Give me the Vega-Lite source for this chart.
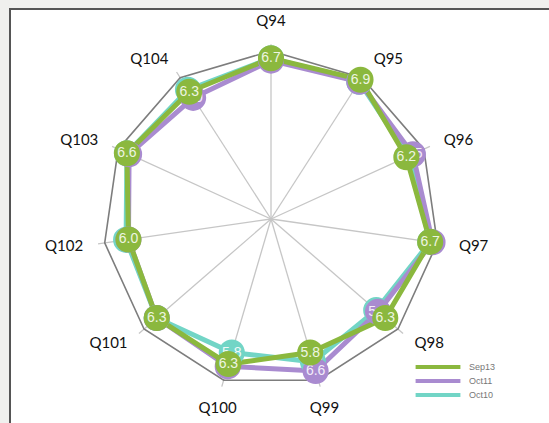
{
  "$schema": "https://vega.github.io/schema/vega-lite/v6.json",
  "width": 545,
  "height": 420,
  "autosize": {"type": "none"},
  "padding": {"left": 10, "top": 9, "right": 0, "bottom": 0},
  "background": "#f0f0ee",
  "config": {"view": {"stroke": "#555555", "strokeWidth": 2, "fill": "#ffffff"}},
  "datasets": {
    "axes": [
      {"q": "Q94", "max": 7}, {"q": "Q95", "max": 7}, {"q": "Q96", "max": 7}, {"q": "Q97", "max": 7},
      {"q": "Q98", "max": 7}, {"q": "Q99", "max": 7}, {"q": "Q100", "max": 7}, {"q": "Q101", "max": 7},
      {"q": "Q102", "max": 7}, {"q": "Q103", "max": 7}, {"q": "Q104", "max": 7}
    ],
    "scores": [
      {"series": "Sep13", "q": "Q94", "value": 6.7}, {"series": "Sep13", "q": "Q95", "value": 6.9},
      {"series": "Sep13", "q": "Q96", "value": 6.2}, {"series": "Sep13", "q": "Q97", "value": 6.7},
      {"series": "Sep13", "q": "Q98", "value": 6.3}, {"series": "Sep13", "q": "Q99", "value": 5.8},
      {"series": "Sep13", "q": "Q100", "value": 6.3}, {"series": "Sep13", "q": "Q101", "value": 6.3},
      {"series": "Sep13", "q": "Q102", "value": 6.0}, {"series": "Sep13", "q": "Q103", "value": 6.6},
      {"series": "Sep13", "q": "Q104", "value": 6.3},
      {"series": "Oct11", "q": "Q94", "value": 6.6}, {"series": "Oct11", "q": "Q95", "value": 6.8},
      {"series": "Oct11", "q": "Q96", "value": 6.5}, {"series": "Oct11", "q": "Q97", "value": 6.8},
      {"series": "Oct11", "q": "Q98", "value": 5.9}, {"series": "Oct11", "q": "Q99", "value": 6.6},
      {"series": "Oct11", "q": "Q100", "value": 6.4}, {"series": "Oct11", "q": "Q101", "value": 6.3},
      {"series": "Oct11", "q": "Q102", "value": 6.0}, {"series": "Oct11", "q": "Q103", "value": 6.5},
      {"series": "Oct11", "q": "Q104", "value": 6.0},
      {"series": "Oct10", "q": "Q94", "value": 6.7}, {"series": "Oct10", "q": "Q95", "value": 6.8},
      {"series": "Oct10", "q": "Q96", "value": 6.3}, {"series": "Oct10", "q": "Q97", "value": 6.7},
      {"series": "Oct10", "q": "Q98", "value": 5.8}, {"series": "Oct10", "q": "Q99", "value": 6.2},
      {"series": "Oct10", "q": "Q100", "value": 5.8}, {"series": "Oct10", "q": "Q101", "value": 6.3},
      {"series": "Oct10", "q": "Q102", "value": 6.1}, {"series": "Oct10", "q": "Q103", "value": 6.6},
      {"series": "Oct10", "q": "Q104", "value": 6.4}
    ]
  },
  "layer": [
    {
      "data": {"name": "axes"},
      "transform": [
        {"calculate": "indexof(['Q94','Q95','Q96','Q97','Q98','Q99','Q100','Q101','Q102','Q103','Q104'], datum.q) * 2 * PI / 11", "as": "a"},
        {"calculate": "datum.max * 1.04 * 24 * sin(datum.a)", "as": "sx"},
        {"calculate": "datum.max * 1.04 * 24 * cos(datum.a)", "as": "sy"},
        {"calculate": "0", "as": "o"}
      ],
      "mark": {"type": "rule", "color": "#c6c6c6", "strokeWidth": 1.3},
      "encoding": {
        "x": {"field": "o", "type": "quantitative", "scale": {"domain": [-261, 284]}, "axis": null},
        "y": {"field": "o", "type": "quantitative", "scale": {"domain": [-210, 210]}, "axis": null},
        "x2": {"field": "sx"},
        "y2": {"field": "sy"}
      }
    },
    {
      "data": {"name": "axes"},
      "transform": [
        {"calculate": "indexof(['Q94','Q95','Q96','Q97','Q98','Q99','Q100','Q101','Q102','Q103','Q104'], datum.q)", "as": "i"},
        {"calculate": "datum.i * 2 * PI / 11", "as": "a"},
        {"calculate": "datum.max * 24 * sin(datum.a)", "as": "rx"},
        {"calculate": "datum.max * 24 * cos(datum.a)", "as": "ry"}
      ],
      "mark": {"type": "line", "interpolate": "linear-closed", "color": "#7d7d7d", "strokeWidth": 1.6},
      "encoding": {
        "x": {"field": "rx", "type": "quantitative", "scale": {"domain": [-261, 284]}, "axis": null},
        "y": {"field": "ry", "type": "quantitative", "scale": {"domain": [-210, 210]}, "axis": null},
        "order": {"field": "i", "type": "quantitative"}
      }
    },
    {
      "data": {"name": "scores"},
      "transform": [
        {"filter": "datum.series === 'Oct10'"},
        {"calculate": "indexof(['Q94','Q95','Q96','Q97','Q98','Q99','Q100','Q101','Q102','Q103','Q104'], datum.q)", "as": "i"},
        {"calculate": "datum.value * 24 * sin(datum.i * 2 * PI / 11)", "as": "px"},
        {"calculate": "datum.value * 24 * cos(datum.i * 2 * PI / 11)", "as": "py"}
      ],
      "mark": {"type": "line", "interpolate": "linear-closed", "strokeWidth": 5},
      "encoding": {
        "x": {"field": "px", "type": "quantitative", "scale": {"domain": [-261, 284]}, "axis": null},
        "y": {"field": "py", "type": "quantitative", "scale": {"domain": [-210, 210]}, "axis": null},
        "order": {"field": "i", "type": "quantitative"},
        "color": {"field": "series", "type": "nominal",
          "scale": {"domain": ["Sep13", "Oct11", "Oct10"], "range": ["#8bb83e", "#a98bd0", "#72d5c6"]},
          "legend": {"orient": "none", "legendX": 422, "legendY": 352, "padding": 0, "title": null, "symbolType": "M-5.6,0H5.6", "symbolStrokeWidth": 4, "symbolSize": 64, "labelOffset": 25, "labelFont": "Liberation Sans", "labelFontSize": 9, "labelColor": "#777777", "rowPadding": -8}}
      }
    },
    {
      "data": {"name": "scores"},
      "transform": [
        {"filter": "datum.series === 'Oct11'"},
        {"calculate": "indexof(['Q94','Q95','Q96','Q97','Q98','Q99','Q100','Q101','Q102','Q103','Q104'], datum.q)", "as": "i"},
        {"calculate": "datum.value * 24 * sin(datum.i * 2 * PI / 11)", "as": "px"},
        {"calculate": "datum.value * 24 * cos(datum.i * 2 * PI / 11)", "as": "py"}
      ],
      "mark": {"type": "line", "interpolate": "linear-closed", "strokeWidth": 5},
      "encoding": {
        "x": {"field": "px", "type": "quantitative", "scale": {"domain": [-261, 284]}, "axis": null},
        "y": {"field": "py", "type": "quantitative", "scale": {"domain": [-210, 210]}, "axis": null},
        "order": {"field": "i", "type": "quantitative"},
        "color": {"field": "series", "type": "nominal",
          "scale": {"domain": ["Sep13", "Oct11", "Oct10"], "range": ["#8bb83e", "#a98bd0", "#72d5c6"]},
          "legend": {"orient": "none", "legendX": 422, "legendY": 352, "padding": 0, "title": null, "symbolType": "M-5.6,0H5.6", "symbolStrokeWidth": 4, "symbolSize": 64, "labelOffset": 25, "labelFont": "Liberation Sans", "labelFontSize": 9, "labelColor": "#777777", "rowPadding": -8}}
      }
    },
    {
      "data": {"name": "scores"},
      "transform": [
        {"filter": "datum.series === 'Sep13'"},
        {"calculate": "indexof(['Q94','Q95','Q96','Q97','Q98','Q99','Q100','Q101','Q102','Q103','Q104'], datum.q)", "as": "i"},
        {"calculate": "datum.value * 24 * sin(datum.i * 2 * PI / 11)", "as": "px"},
        {"calculate": "datum.value * 24 * cos(datum.i * 2 * PI / 11)", "as": "py"}
      ],
      "mark": {"type": "line", "interpolate": "linear-closed", "strokeWidth": 5},
      "encoding": {
        "x": {"field": "px", "type": "quantitative", "scale": {"domain": [-261, 284]}, "axis": null},
        "y": {"field": "py", "type": "quantitative", "scale": {"domain": [-210, 210]}, "axis": null},
        "order": {"field": "i", "type": "quantitative"},
        "color": {"field": "series", "type": "nominal",
          "scale": {"domain": ["Sep13", "Oct11", "Oct10"], "range": ["#8bb83e", "#a98bd0", "#72d5c6"]},
          "legend": {"orient": "none", "legendX": 422, "legendY": 352, "padding": 0, "title": null, "symbolType": "M-5.6,0H5.6", "symbolStrokeWidth": 4, "symbolSize": 64, "labelOffset": 25, "labelFont": "Liberation Sans", "labelFontSize": 9, "labelColor": "#777777", "rowPadding": -8}}
      }
    },
    {
      "data": {"name": "scores"},
      "transform": [
        {"filter": "datum.series === 'Oct10'"},
        {"calculate": "indexof(['Q94','Q95','Q96','Q97','Q98','Q99','Q100','Q101','Q102','Q103','Q104'], datum.q)", "as": "i"},
        {"calculate": "datum.value * 24 * sin(datum.i * 2 * PI / 11)", "as": "px"},
        {"calculate": "datum.value * 24 * cos(datum.i * 2 * PI / 11)", "as": "py"}
      ],
      "mark": {"type": "circle", "size": 680, "opacity": 1, "color": "#72d5c6"},
      "encoding": {
        "x": {"field": "px", "type": "quantitative", "scale": {"domain": [-261, 284]}, "axis": null},
        "y": {"field": "py", "type": "quantitative", "scale": {"domain": [-210, 210]}, "axis": null}
      }
    },
    {
      "data": {"name": "scores"},
      "transform": [
        {"filter": "datum.series === 'Oct10'"},
        {"calculate": "indexof(['Q94','Q95','Q96','Q97','Q98','Q99','Q100','Q101','Q102','Q103','Q104'], datum.q)", "as": "i"},
        {"calculate": "datum.value * 24 * sin(datum.i * 2 * PI / 11)", "as": "px"},
        {"calculate": "datum.value * 24 * cos(datum.i * 2 * PI / 11)", "as": "py"}
      ],
      "mark": {"type": "text", "fontSize": 14, "font": "Liberation Sans", "color": "#f1faf8"},
      "encoding": {
        "x": {"field": "px", "type": "quantitative", "scale": {"domain": [-261, 284]}, "axis": null},
        "y": {"field": "py", "type": "quantitative", "scale": {"domain": [-210, 210]}, "axis": null},
        "text": {"field": "value", "type": "quantitative", "format": ".1f"}
      }
    },
    {
      "data": {"name": "scores"},
      "transform": [
        {"filter": "datum.series === 'Oct11'"},
        {"calculate": "indexof(['Q94','Q95','Q96','Q97','Q98','Q99','Q100','Q101','Q102','Q103','Q104'], datum.q)", "as": "i"},
        {"calculate": "datum.value * 24 * sin(datum.i * 2 * PI / 11)", "as": "px"},
        {"calculate": "datum.value * 24 * cos(datum.i * 2 * PI / 11)", "as": "py"}
      ],
      "mark": {"type": "circle", "size": 680, "opacity": 1, "color": "#a98bd0"},
      "encoding": {
        "x": {"field": "px", "type": "quantitative", "scale": {"domain": [-261, 284]}, "axis": null},
        "y": {"field": "py", "type": "quantitative", "scale": {"domain": [-210, 210]}, "axis": null}
      }
    },
    {
      "data": {"name": "scores"},
      "transform": [
        {"filter": "datum.series === 'Oct11'"},
        {"calculate": "indexof(['Q94','Q95','Q96','Q97','Q98','Q99','Q100','Q101','Q102','Q103','Q104'], datum.q)", "as": "i"},
        {"calculate": "datum.value * 24 * sin(datum.i * 2 * PI / 11)", "as": "px"},
        {"calculate": "datum.value * 24 * cos(datum.i * 2 * PI / 11)", "as": "py"}
      ],
      "mark": {"type": "text", "fontSize": 14, "font": "Liberation Sans", "color": "#f3eefa"},
      "encoding": {
        "x": {"field": "px", "type": "quantitative", "scale": {"domain": [-261, 284]}, "axis": null},
        "y": {"field": "py", "type": "quantitative", "scale": {"domain": [-210, 210]}, "axis": null},
        "text": {"field": "value", "type": "quantitative", "format": ".1f"}
      }
    },
    {
      "data": {"name": "scores"},
      "transform": [
        {"filter": "datum.series === 'Sep13'"},
        {"calculate": "indexof(['Q94','Q95','Q96','Q97','Q98','Q99','Q100','Q101','Q102','Q103','Q104'], datum.q)", "as": "i"},
        {"calculate": "datum.value * 24 * sin(datum.i * 2 * PI / 11)", "as": "px"},
        {"calculate": "datum.value * 24 * cos(datum.i * 2 * PI / 11)", "as": "py"}
      ],
      "mark": {"type": "circle", "size": 680, "opacity": 1, "color": "#8bb83e"},
      "encoding": {
        "x": {"field": "px", "type": "quantitative", "scale": {"domain": [-261, 284]}, "axis": null},
        "y": {"field": "py", "type": "quantitative", "scale": {"domain": [-210, 210]}, "axis": null}
      }
    },
    {
      "data": {"name": "scores"},
      "transform": [
        {"filter": "datum.series === 'Sep13'"},
        {"calculate": "indexof(['Q94','Q95','Q96','Q97','Q98','Q99','Q100','Q101','Q102','Q103','Q104'], datum.q)", "as": "i"},
        {"calculate": "datum.value * 24 * sin(datum.i * 2 * PI / 11)", "as": "px"},
        {"calculate": "datum.value * 24 * cos(datum.i * 2 * PI / 11)", "as": "py"}
      ],
      "mark": {"type": "text", "fontSize": 14, "font": "Liberation Sans", "color": "#eef5e2"},
      "encoding": {
        "x": {"field": "px", "type": "quantitative", "scale": {"domain": [-261, 284]}, "axis": null},
        "y": {"field": "py", "type": "quantitative", "scale": {"domain": [-210, 210]}, "axis": null},
        "text": {"field": "value", "type": "quantitative", "format": ".1f"}
      }
    },
    {
      "data": {"name": "axes"},
      "transform": [
        {"calculate": "indexof(['Q94','Q95','Q96','Q97','Q98','Q99','Q100','Q101','Q102','Q103','Q104'], datum.q) * 2 * PI / 11", "as": "a"},
        {"calculate": "datum.max * 1.13 * 24 * sin(datum.a)", "as": "lx"},
        {"calculate": "datum.max * 1.13 * 24 * cos(datum.a)", "as": "ly"},
        {"calculate": "sin(datum.a) > 0.3 ? 'left' : (sin(datum.a) < -0.3 ? 'right' : 'center')", "as": "al"},
        {"calculate": "cos(datum.a) > 0.9 ? 'bottom' : (cos(datum.a) < -0.9 ? 'top' : 'middle')", "as": "bl"}
      ],
      "mark": {"type": "text", "fontSize": 15, "font": "Lato", "color": "#111111", "align": {"expr": "datum.al"}, "baseline": {"expr": "datum.bl"}},
      "encoding": {
        "x": {"field": "lx", "type": "quantitative", "scale": {"domain": [-261, 284]}, "axis": null},
        "y": {"field": "ly", "type": "quantitative", "scale": {"domain": [-210, 210]}, "axis": null},
        "text": {"field": "q", "type": "nominal"}
      }
    }
  ]
}
